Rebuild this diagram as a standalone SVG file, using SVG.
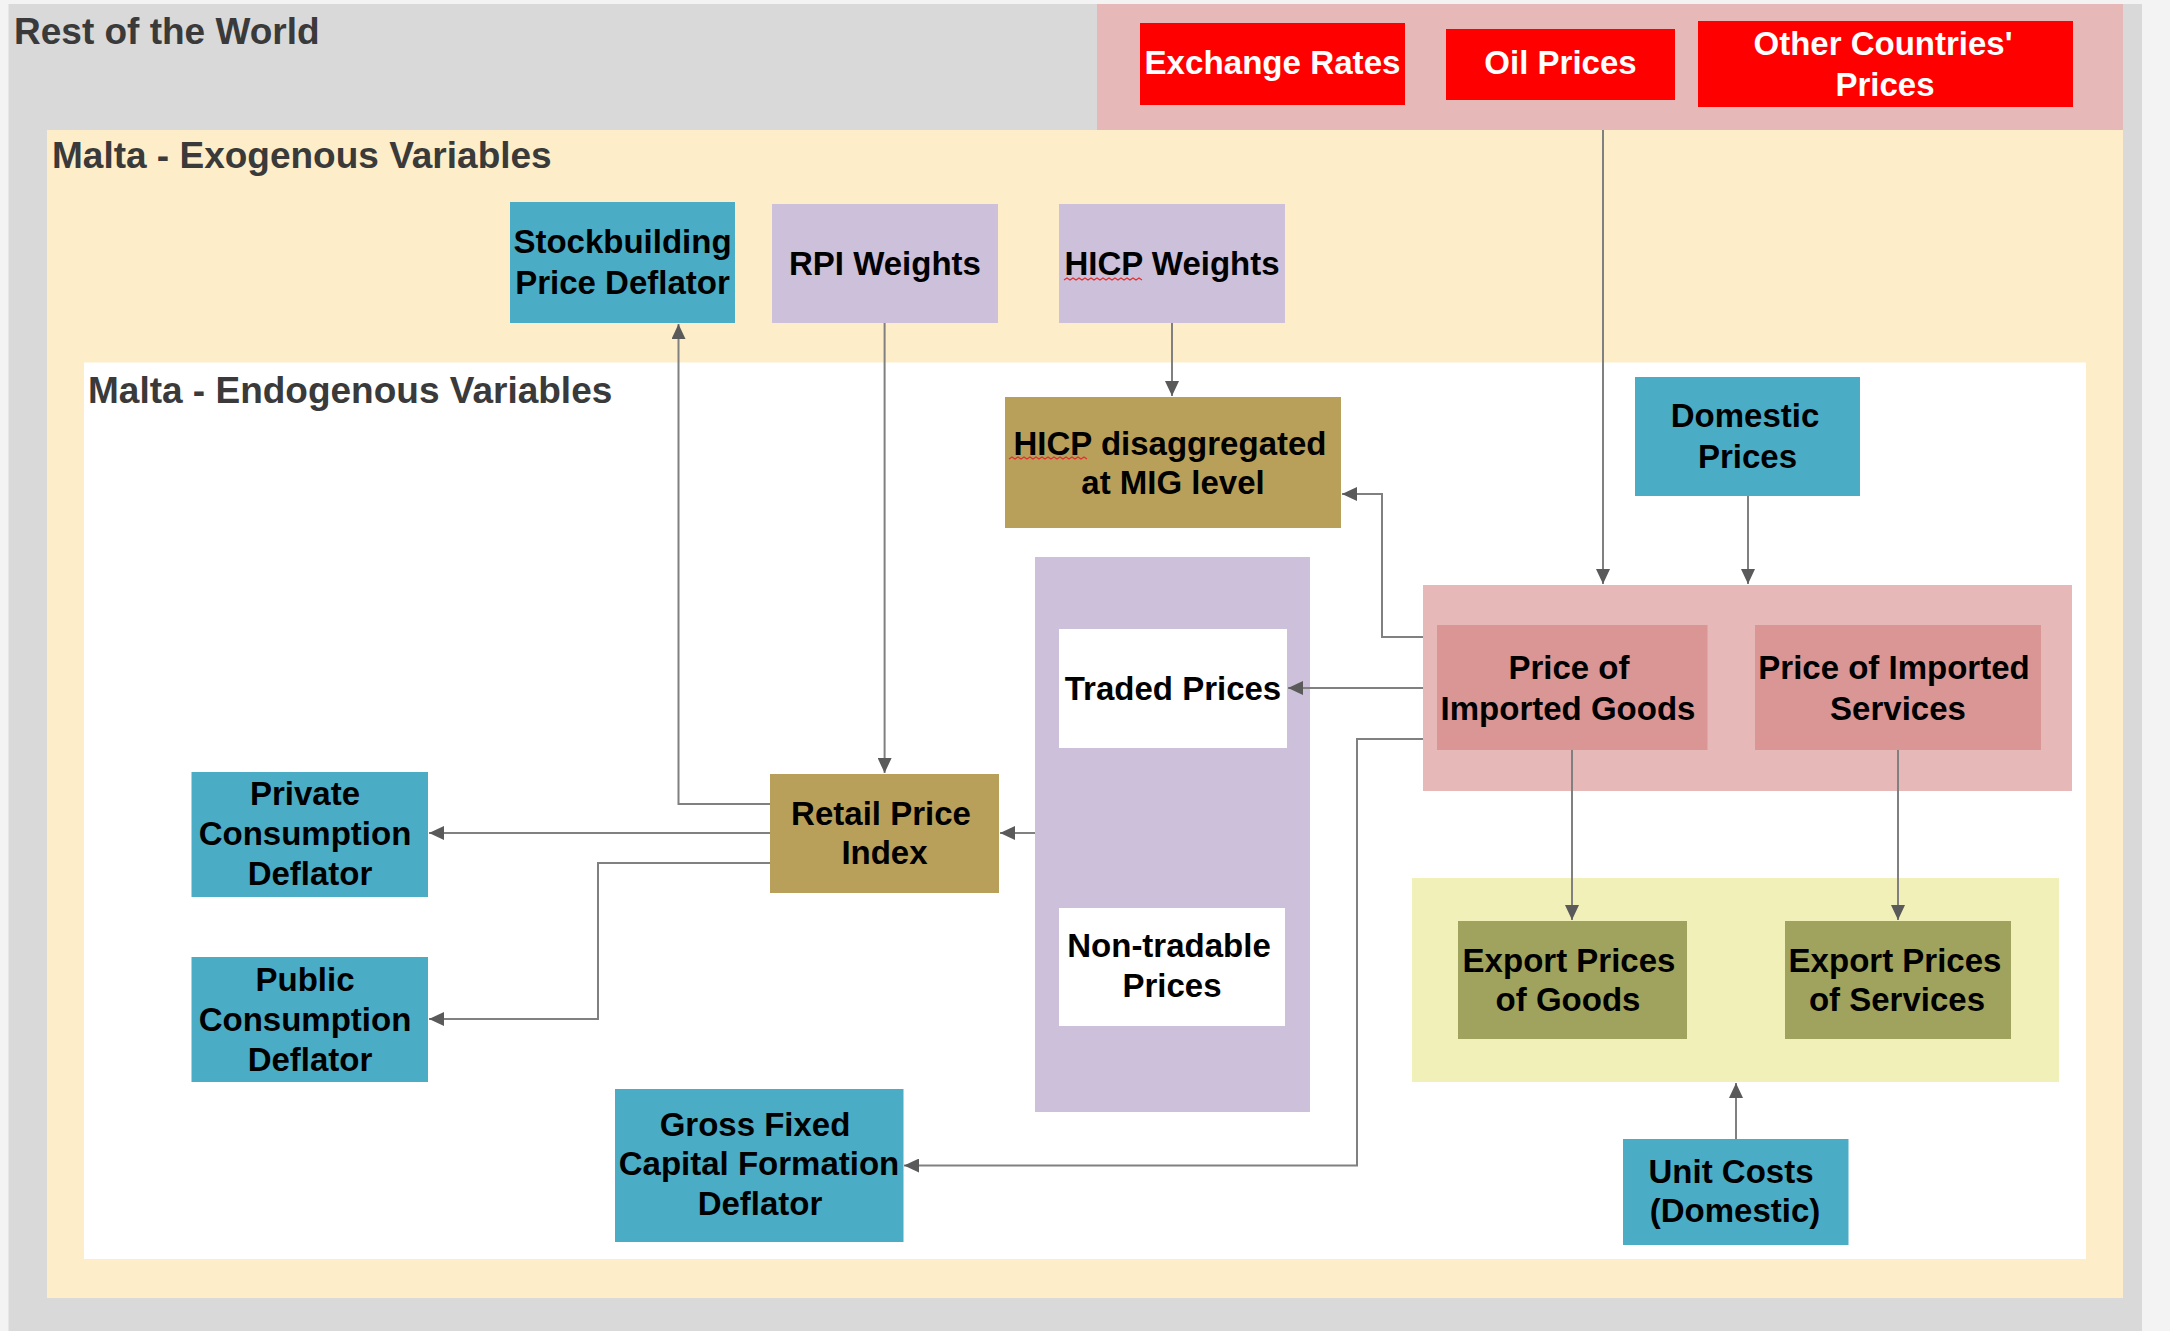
<svg xmlns="http://www.w3.org/2000/svg" width="2170" height="1331" viewBox="0 0 2170 1331">
<defs>
<style>
.t{font-family:"Liberation Sans",Arial,sans-serif;font-weight:bold;font-size:33px;text-anchor:middle;fill:#000}
.w{fill:#fff}
.title{font-family:"Liberation Sans",Arial,sans-serif;font-weight:bold;font-size:37px;fill:#3a3a3a}
.teal{fill:#4bacc6}
.lav{fill:#ccc0da}
.gold{fill:#b9a05a}
.red{fill:#ff0000}
.ipink{fill:#d99694}
.olive{fill:#a0a35d}
.conn{fill:none;stroke:#808080;stroke-width:2;marker-end:url(#ah)}
.sq{fill:none;stroke:#e03030;stroke-width:1.2}
</style>
<marker id="ah" markerUnits="userSpaceOnUse" markerWidth="15" markerHeight="14" refX="15" refY="7" orient="auto">
<path d="M0,0 L15,7 L0,14 z" fill="#5a5a5a"/>
</marker>
</defs>
<rect x="0" y="0" width="2170" height="1331" fill="#f3f3f3"/>
<g id="rest-of-world">
<rect x="8.5" y="4" width="2133.5" height="1327" fill="#d9d9d9"/>
<rect x="1097" y="4" width="1026" height="126" fill="#e6b8b7"/>
<text class="title" x="14" y="44">Rest of the World</text>
</g>
<g id="exogenous">
<rect x="47" y="130" width="2076" height="1168" fill="#fdeec9"/>
<text class="title" x="52" y="168">Malta - Exogenous Variables</text>
</g>
<g id="endogenous">
<rect x="84" y="362.5" width="2002" height="896.5" fill="#ffffff"/>
<text class="title" x="88" y="403">Malta - Endogenous Variables</text>
</g>
<g id="exchange-rates">
<rect class="red" x="1140" y="23" width="265" height="82"/>
<text class="t w" x="1272.5" y="74" textLength="256" lengthAdjust="spacingAndGlyphs">Exchange Rates</text>
</g>
<g id="oil-prices">
<rect class="red" x="1446" y="29" width="229" height="71"/>
<text class="t w" x="1560.5" y="74">Oil Prices</text>
</g>
<g id="other-countries-prices">
<rect class="red" x="1698" y="21" width="375" height="86"/>
<text class="t w" x="1883" y="54.5">Other Countries'</text>
<text class="t w" x="1885" y="96">Prices</text>
</g>
<g id="stockbuilding">
<rect class="teal" x="510" y="202" width="225" height="121"/>
<text class="t" x="622.5" y="253">Stockbuilding</text>
<text class="t" x="622.5" y="294">Price Deflator</text>
</g>
<g id="rpi-weights">
<rect class="lav" x="772" y="204" width="226" height="119"/>
<text class="t" x="885" y="275">RPI Weights</text>
</g>
<g id="hicp-weights">
<rect class="lav" x="1059" y="204" width="226" height="119"/>
<text class="t" x="1172" y="275">HICP Weights</text>
<path class="sq" d="M1064,280 l3,-2 l3,2 l3,-2 l3,2 l3,-2 l3,2 l3,-2 l3,2 l3,-2 l3,2 l3,-2 l3,2 l3,-2 l3,2 l3,-2 l3,2 l3,-2 l3,2 l3,-2 l3,2 l3,-2 l3,2 l3,-2 l3,2 l3,-2 l3,2"/>
</g>
<g id="hicp-disaggregated">
<rect class="gold" x="1005" y="397" width="336" height="131"/>
<text class="t" x="1170" y="455">HICP disaggregated</text>
<text class="t" x="1173" y="493.5">at MIG level</text>
<path class="sq" d="M1009,459 l3,-2 l3,2 l3,-2 l3,2 l3,-2 l3,2 l3,-2 l3,2 l3,-2 l3,2 l3,-2 l3,2 l3,-2 l3,2 l3,-2 l3,2 l3,-2 l3,2 l3,-2 l3,2 l3,-2 l3,2 l3,-2 l3,2 l3,-2 l3,2"/>
</g>
<g id="domestic-prices">
<rect class="teal" x="1635" y="377" width="225" height="119"/>
<text class="t" x="1745" y="427">Domestic</text>
<text class="t" x="1747.5" y="467.5">Prices</text>
</g>
<g id="traded-nontraded">
<rect class="lav" x="1035" y="557" width="275" height="555"/>
</g>
<g id="traded-prices">
<rect fill="#fff" x="1059" y="629" width="228" height="119"/>
<text class="t" x="1173" y="699.5">Traded Prices</text>
</g>
<g id="non-tradable-prices">
<rect fill="#fff" x="1059" y="908" width="226" height="118"/>
<text class="t" x="1169" y="957">Non-tradable</text>
<text class="t" x="1172" y="997">Prices</text>
</g>
<g id="import-prices">
<rect fill="#e6b8b7" x="1423" y="585" width="649" height="206"/>
</g>
<g id="price-imported-goods">
<rect class="ipink" x="1437" y="625" width="270.5" height="125"/>
<text class="t" x="1569" y="678.5">Price of</text>
<text class="t" x="1568" y="719.5">Imported Goods</text>
</g>
<g id="price-imported-services">
<rect class="ipink" x="1755" y="625" width="286" height="125"/>
<text class="t" x="1894" y="678.5">Price of Imported</text>
<text class="t" x="1898" y="719.5">Services</text>
</g>
<g id="export-prices">
<rect fill="#f1f0b8" x="1412" y="878" width="647" height="204"/>
</g>
<g id="export-goods">
<rect class="olive" x="1458" y="921" width="229" height="118"/>
<text class="t" x="1569" y="972">Export Prices</text>
<text class="t" x="1568" y="1010.5">of Goods</text>
</g>
<g id="export-services">
<rect class="olive" x="1785" y="921" width="226" height="118"/>
<text class="t" x="1895" y="972">Export Prices</text>
<text class="t" x="1897" y="1010.5">of Services</text>
</g>
<g id="unit-costs">
<rect class="teal" x="1623" y="1139" width="225.5" height="106"/>
<text class="t" x="1731" y="1183">Unit Costs</text>
<text class="t" x="1735" y="1222">(Domestic)</text>
</g>
<g id="private-consumption">
<rect class="teal" x="191.5" y="772" width="236.5" height="125"/>
<text class="t" x="305" y="805">Private</text>
<text class="t" x="305" y="845">Consumption</text>
<text class="t" x="310" y="885">Deflator</text>
</g>
<g id="public-consumption">
<rect class="teal" x="191.5" y="957" width="236.5" height="125"/>
<text class="t" x="305" y="991">Public</text>
<text class="t" x="305" y="1031">Consumption</text>
<text class="t" x="310" y="1071">Deflator</text>
</g>
<g id="retail-price-index">
<rect class="gold" x="770" y="774" width="229" height="119"/>
<text class="t" x="881" y="825">Retail Price</text>
<text class="t" x="884.5" y="863.5">Index</text>
</g>
<g id="gfcf-deflator">
<rect class="teal" x="615" y="1089" width="288.5" height="153"/>
<text class="t" x="755" y="1136">Gross Fixed</text>
<text class="t" x="759" y="1175">Capital Formation</text>
<text class="t" x="760" y="1214.5">Deflator</text>
</g>
<g id="connectors">
<polyline class="conn" points="770,804 678.5,804 678.5,324"/>
<polyline class="conn" points="884.6,323 884.6,773"/>
<polyline class="conn" points="1172,323 1172,396"/>
<polyline class="conn" points="1603,130 1603,584"/>
<polyline class="conn" points="1748,496 1748,584"/>
<polyline class="conn" points="1423,637 1382,637 1382,494 1342,494"/>
<polyline class="conn" points="1423,688 1288,688"/>
<polyline class="conn" points="1423,739 1357,739 1357,1165.5 904,1165.5"/>
<polyline class="conn" points="1572,750 1572,920"/>
<polyline class="conn" points="1898,750 1898,920"/>
<polyline class="conn" points="1736,1139 1736,1083"/>
<polyline class="conn" points="1035,833 1000,833"/>
<polyline class="conn" points="770,833 429,833"/>
<polyline class="conn" points="770,863 598,863 598,1019 429,1019"/>
</g>
</svg>
